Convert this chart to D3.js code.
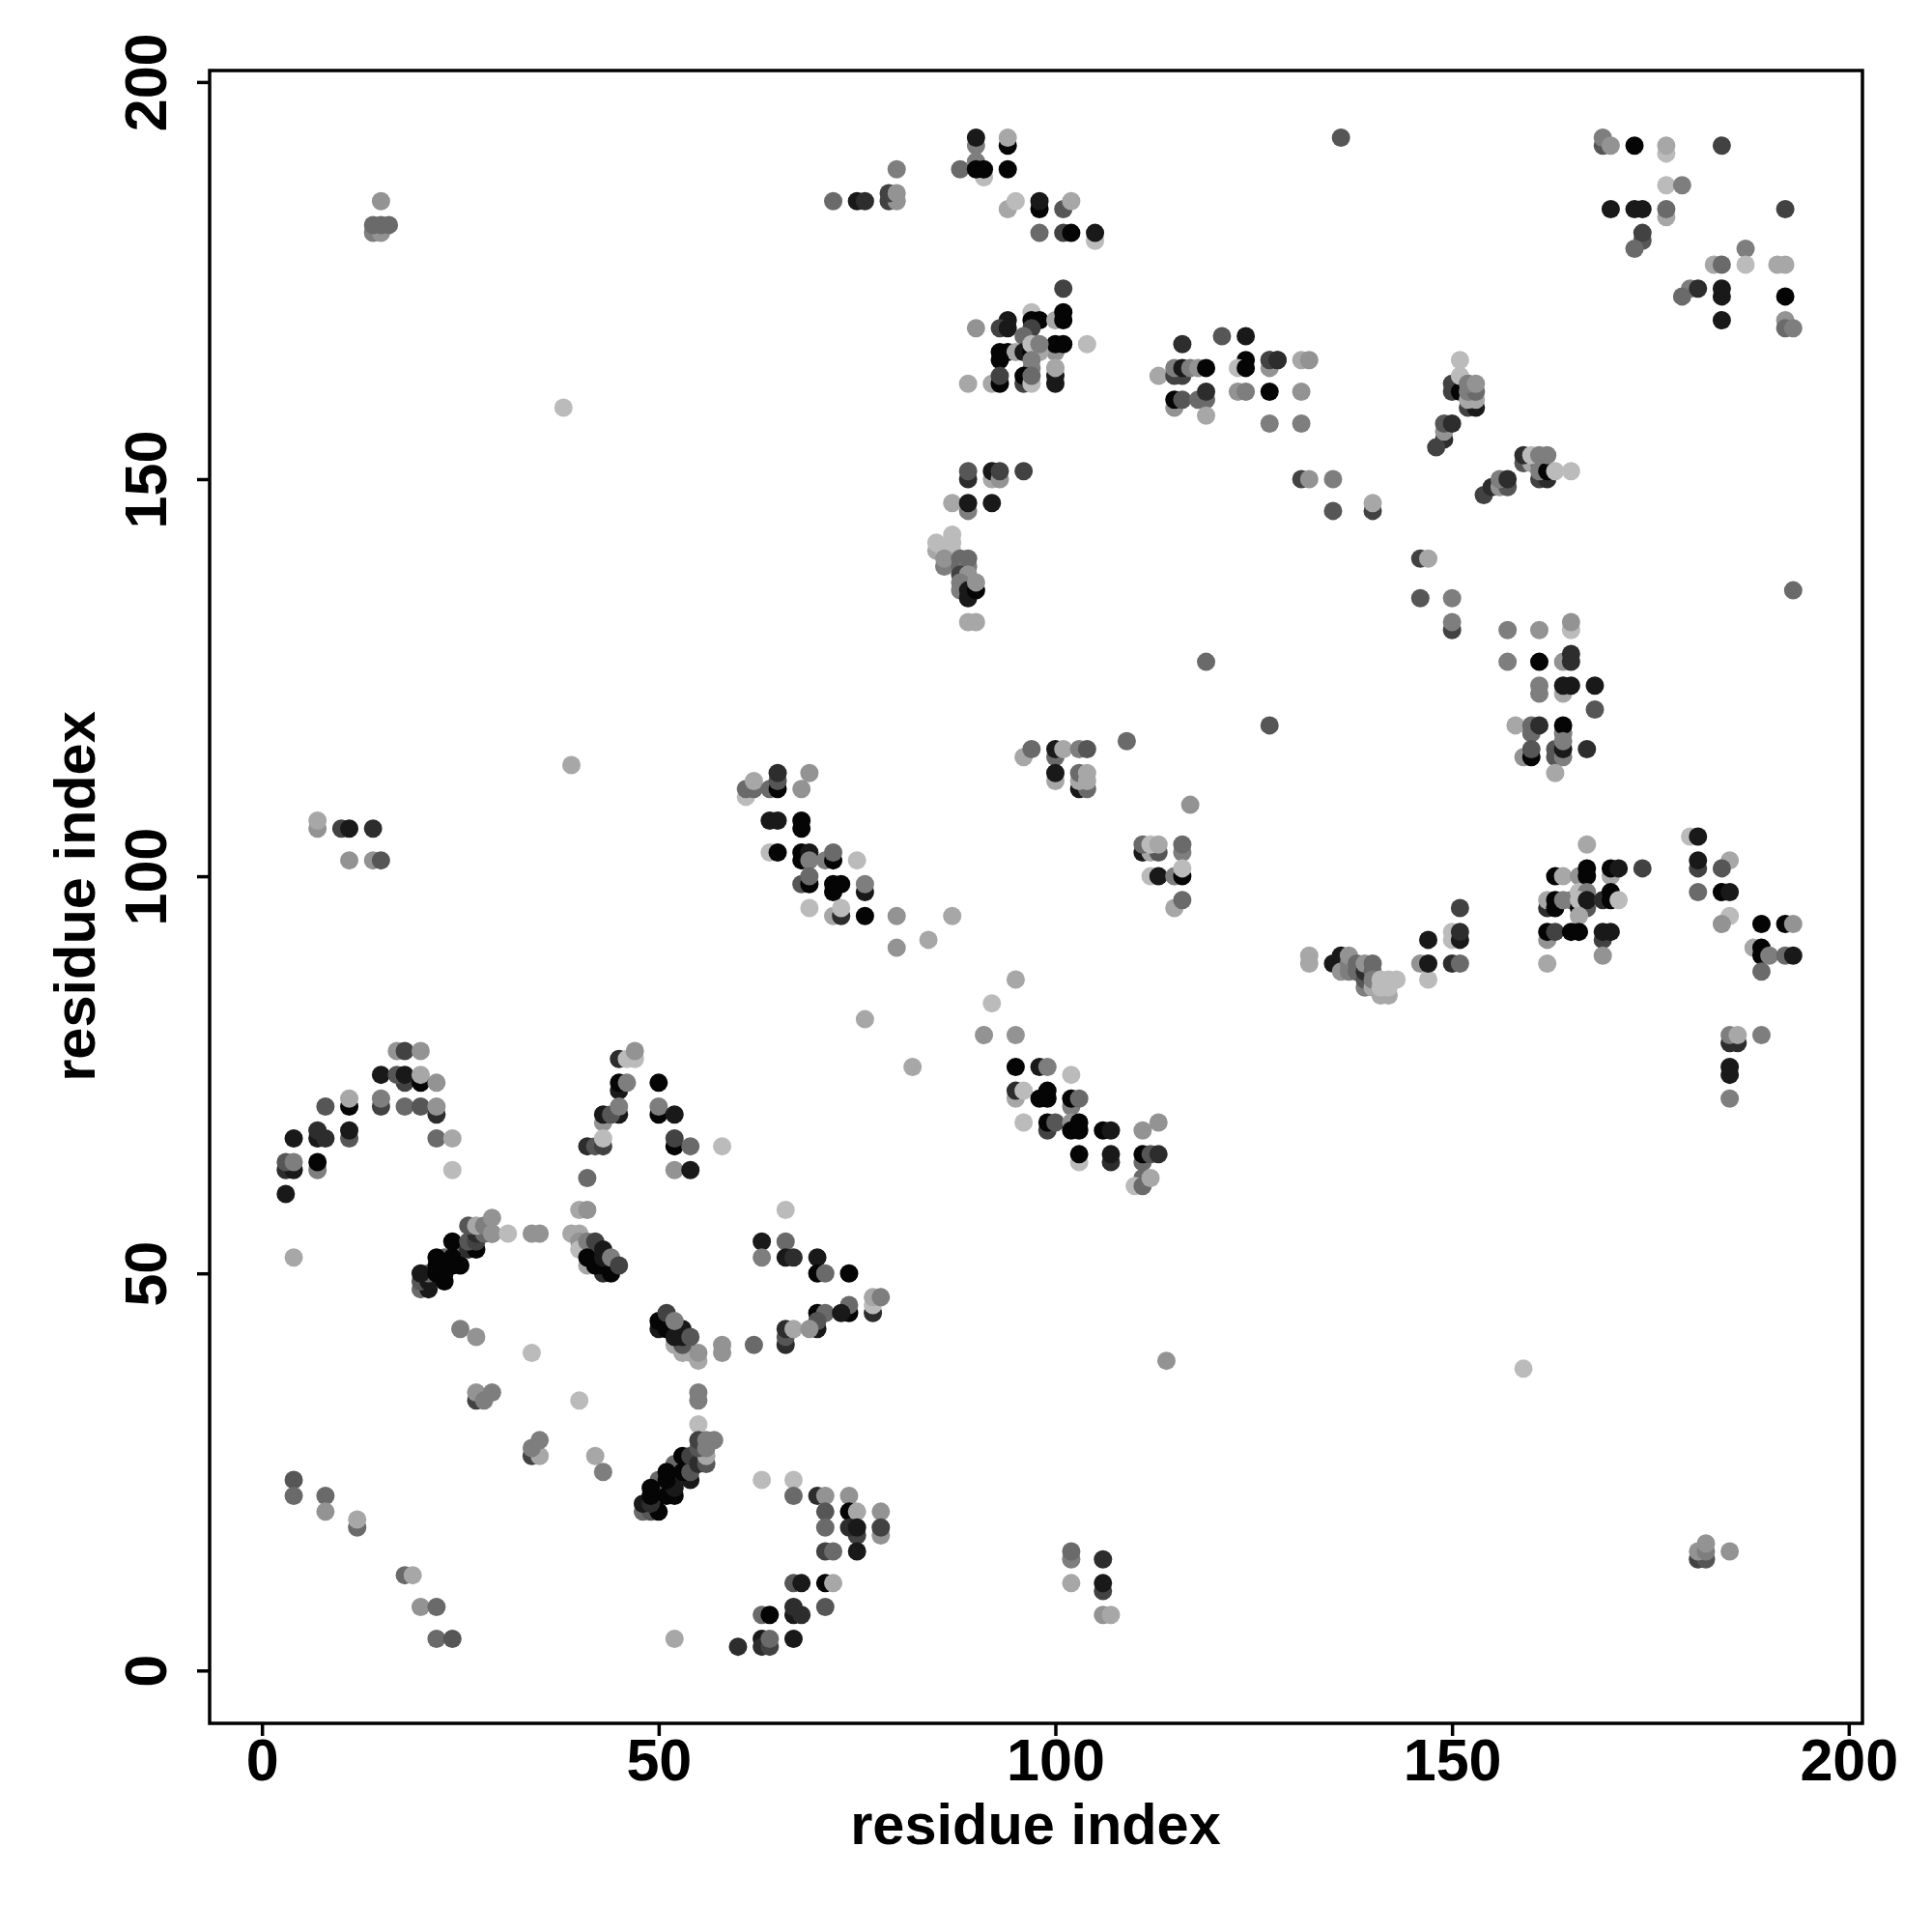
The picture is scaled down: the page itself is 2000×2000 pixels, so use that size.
<!DOCTYPE html>
<html><head><meta charset="utf-8">
<script src="https://cdn.jsdelivr.net/npm/d3@7"></script>
<style>html,body{margin:0;padding:0;background:#fff}svg{display:block}text{font-family:"Liberation Sans",Arial,sans-serif;font-weight:700;fill:#000}</style>
</head><body><div id="chart"></div>
<script>
// [residue x, residue y, darkness level 0 (light) .. 9 (black)]
const archLeft = [[17,78,2],[18,78,6],[20,78,2],[15,75,8],[18,74,6],[20,74,9],[17,75,5],[18,75,8],[20,75,1],[22,74,2],[15,71,6],[15,72,3],[8,71,5],[11,71,9],[11,72,1],[18,71,4],[20,71,5],[22,70,7],[22,71,2],[7,67,8],[7,68,7],[8,67,7],[11,67,5],[11,68,8],[4,67,8],[22,67,4],[24,67,1],[3,63,7],[4,63,8],[3,64,5],[4,64,3],[7,63,3],[7,64,9],[24,63,0],[3,60,8],[4,52,1]];
const archRight = [[45,77,7],[46,77,0],[47,77,0],[47,78,2],[45,73,8],[45,74,9],[46,74,3],[50,74,9],[45,70,8],[43,69,2],[43,70,8],[44,70,5],[50,70,9],[50,71,3],[45,71,3],[52,70,8],[41,66,7],[42,66,5],[43,66,6],[43,67,0],[52,66,9],[52,67,6],[54,66,4],[58,66,0],[52,63,2],[54,63,8],[41,62,4],[40,58,1],[41,58,2]];
const blobA = [[20,48,4],[21,48,8],[20,49,5],[21,49,8],[21,50,4],[20,50,8],[23,52,4],[22,50,9],[23,49,9],[23,50,9],[22,51,9],[22,52,9],[25,53,4],[24,52,9],[25,51,9],[24,51,9],[24,54,9],[26,53,7],[27,53,9],[26,54,5],[27,54,6],[27,55,7],[29,55,7],[26,56,5],[28,55,4],[27,56,1],[28,56,3],[29,55,2],[29,57,2],[31,55,0],[34,55,2],[35,55,2]];
const blobB = [[39,55,1],[40,55,1],[40,54,2],[41,53,3],[40,53,0],[41,54,3],[42,54,6],[41,51,1],[41,52,9],[43,53,8],[43,50,7],[44,50,9],[42,51,9],[43,51,9],[43,52,8],[44,52,3],[45,51,6]];
const blobC = [[52,41,1],[53,40,1],[54,40,1],[55,39,1],[55,40,2],[53,41,5],[50,43,8],[50,44,9],[51,43,9],[51,45,6],[52,42,8],[53,42,8],[53,43,8],[52,44,3],[54,42,5],[58,41,2],[58,40,2],[25,43,3],[27,42,2],[34,40,0],[27,34,6],[27,35,2],[28,34,3],[29,35,3],[40,34,0],[55,34,3],[55,35,3],[55,31,0]];
const blobD = [[48,20,4],[49,20,5],[50,22,4],[50,24,4],[52,24,5],[52,26,4],[50,20,9],[48,21,8],[49,21,7],[49,22,9],[51,22,9],[52,22,9],[49,23,9],[52,23,8],[54,24,8],[51,24,9],[51,25,9],[53,25,9],[54,25,5],[53,27,9],[54,27,6],[55,26,7],[56,26,5],[56,27,1],[55,28,5],[55,29,6],[56,28,3],[56,29,3],[57,29,3],[34,27,6],[35,27,1],[34,28,3],[35,29,3],[42,27,1],[43,25,3]];
const farLeft = [[4,24,5],[4,22,4],[8,22,4],[8,20,2],[12,18,4],[12,19,1],[18,12,4],[19,12,1],[20,8,2],[22,8,4],[22,4,4],[24,4,5],[52,4,1]];
const lowerMid = [[66,58,0],[63,54,8],[66,54,4],[63,52,3],[66,52,8],[67,52,7],[70,52,8],[70,50,9],[71,50,4],[74,50,9],[77,45,7],[77,46,0],[77,47,1],[78,47,3],[74,45,9],[74,46,4],[70,45,9],[71,45,4],[73,45,8],[70,43,8],[70,44,5],[66,41,7],[66,42,5],[66,43,7],[67,43,1],[69,43,2],[62,41,4],[67,24,0],[63,24,0],[67,22,4],[70,22,7],[71,22,2],[74,22,2],[74,20,9],[75,20,1],[71,20,5],[78,20,2],[78,17,2],[78,18,6],[75,17,6],[74,18,7],[75,18,8],[71,18,4],[71,15,6],[72,15,4],[75,15,8],[67,11,5],[68,11,8],[71,11,9],[72,11,1],[71,8,5],[67,7,8],[67,8,7],[68,7,7],[63,7,4],[64,7,9],[63,4,8],[67,4,8],[60,3,7],[63,3,7],[64,3,6],[64,4,4]];
const lowerRight = [[102,14,3],[102,15,4],[102,11,1],[106,14,7],[106,10,6],[106,11,8],[106,7,2],[107,7,1],[114,39,2],[159,38,0],[181,14,6],[182,14,5],[181,15,2],[182,15,3],[182,16,2],[185,15,2]];
const midBand = [[61,110,0],[61,111,4],[62,111,4],[62,112,1],[64,111,4],[65,111,9],[65,112,5],[65,113,7],[69,113,2],[68,111,2],[64,107,8],[65,107,8],[68,106,9],[68,107,9],[64,103,0],[65,103,9],[68,102,9],[68,103,9],[69,103,8],[69,102,3],[71,102,3],[72,102,9],[72,103,4],[75,102,0],[68,99,5],[69,99,9],[69,100,4],[72,98,9],[72,99,9],[73,99,9],[76,98,8],[76,99,3],[69,96,0],[72,95,1],[73,95,7],[73,96,0],[76,95,9],[80,95,2],[87,95,1],[84,92,1],[80,91,2],[76,82,1],[82,76,1],[95,87,1],[92,84,0],[91,80,2],[95,80,2]];
const midBandLow = [[95,76,9],[98,76,8],[99,76,3],[102,75,0],[95,72,1],[95,73,7],[96,73,0],[98,72,9],[99,72,9],[99,73,9],[102,71,3],[102,72,9],[103,72,4],[96,69,0],[99,68,6],[99,69,9],[100,69,5],[102,69,2],[102,68,9],[103,68,9],[103,69,9],[106,68,9],[107,68,8],[111,68,2],[113,69,2],[103,64,0],[103,65,9],[107,64,7],[107,65,8],[111,64,4],[111,65,9],[112,65,5],[113,65,7],[111,62,4],[110,61,0],[111,61,4],[112,62,1]];
const midUpper = [[96,115,1],[97,116,4],[100,115,4],[100,116,8],[101,116,1],[103,116,3],[104,116,5],[100,112,1],[100,113,8],[103,111,8],[104,111,4],[103,112,1],[103,113,4],[104,113,1],[104,112,1],[109,117,4],[117,109,2],[111,103,8],[112,103,1],[113,103,5],[111,104,4],[112,104,0],[113,104,1],[116,103,3],[116,104,4],[112,100,0],[113,100,8],[115,100,3],[116,100,9],[116,101,0],[115,96,1],[116,97,4],[119,127,4],[127,119,5]];
const topMid = [[72,185,4],[75,185,8],[76,185,7],[79,185,6],[80,185,2],[79,186,6],[80,186,2],[80,189,3],[90,190,3],[88,189,4],[91,188,0],[90,189,9],[91,189,9],[94,189,9],[90,192,3],[90,193,8],[94,192,9],[94,193,1],[94,184,1],[95,185,0],[98,184,9],[98,185,8],[101,184,5],[102,185,1],[98,181,4],[101,181,6],[102,181,9],[105,180,0],[105,181,8]];
const topCluster = [[101,174,6],[97,171,0],[94,170,8],[97,170,9],[98,170,9],[100,170,1],[101,170,9],[101,171,9],[90,169,2],[93,169,6],[94,169,8],[97,169,6],[96,168,4],[93,166,9],[94,166,9],[95,166,1],[96,166,8],[97,166,9],[100,166,2],[100,167,9],[101,167,9],[104,167,0],[98,166,1],[97,167,0],[98,167,3],[93,165,9],[97,164,3],[97,165,3],[100,164,1],[89,162,1],[92,162,1],[93,162,9],[93,163,6],[96,162,6],[96,163,9],[97,162,0],[97,163,4],[100,162,8],[100,163,8],[100,164,1]];
const wing = [[121,168,5],[124,168,8],[116,167,7],[131,165,1],[132,165,2],[124,165,9],[127,165,6],[128,165,7],[113,163,1],[115,163,6],[116,163,6],[115,164,3],[116,164,8],[117,164,3],[118,164,2],[119,164,9],[123,164,0],[124,164,9],[127,164,2],[127,165,6],[128,165,7],[115,159,2],[115,160,9],[116,160,5],[118,160,4],[119,160,4],[119,161,7],[119,158,1],[123,161,2],[124,161,3],[127,161,9],[131,161,2],[127,157,3],[131,157,3],[131,150,6],[132,150,2],[135,150,3],[135,146,5],[140,146,6],[140,147,1]];
const helixA = [[151,165,0],[150,161,6],[150,162,6],[151,161,9],[151,163,0],[152,159,6],[153,159,8],[152,160,1],[153,160,1],[152,161,3],[153,161,4],[152,162,3],[153,162,2],[149,155,7],[148,154,6],[149,156,2],[149,157,5],[150,157,7]];
const helixB = [[154,148,6],[155,149,7],[156,149,2],[157,149,5],[156,150,3],[157,150,7],[159,152,5],[160,152,1],[161,152,4],[159,153,7],[160,153,0],[161,150,6],[162,150,7],[161,151,3],[162,151,9],[161,153,3],[162,153,3],[163,151,0],[165,151,0]];
const strandA = [[89,150,7],[89,151,5],[92,150,1],[92,151,8],[93,150,2],[93,151,6],[96,151,6],[87,147,1],[89,146,3],[89,147,8],[92,147,8],[87,143,0],[85,141,1],[85,142,0],[87,142,0],[86,141,0],[87,141,0],[86,139,3],[86,140,2],[88,139,4],[88,140,4],[89,139,3],[89,140,4],[88,138,6],[89,138,2],[88,137,3],[88,136,3],[89,135,8],[89,136,8],[90,136,9],[90,137,2],[89,132,1],[90,132,1]];
const rightTop = [[169,192,5],[169,193,3],[170,192,2],[173,192,9],[177,191,0],[177,192,1],[184,192,6],[177,187,0],[179,187,3],[170,184,8],[173,184,8],[174,184,8],[177,183,1],[177,184,4],[192,184,6],[174,180,5],[174,181,6],[173,179,4],[187,179,3],[183,177,1],[184,177,4],[187,177,0],[191,177,1],[192,177,1],[180,174,3],[179,173,4],[181,174,7],[184,173,8],[184,174,8],[192,173,9],[184,170,8],[192,170,2],[192,169,4],[193,169,3]];
const rightMid = [[146,140,6],[147,140,1],[146,135,5],[150,135,3],[150,131,6],[150,132,3],[157,131,3],[161,131,2],[165,131,0],[165,132,2],[157,127,3],[164,127,2],[161,127,9],[165,127,7],[165,128,7],[161,123,3],[161,124,3],[164,123,1],[164,124,8],[165,124,8],[168,124,8],[168,121,5],[158,119,1],[160,118,4],[160,119,4],[161,119,7],[164,118,3],[164,119,9],[159,115,2],[160,115,9],[160,116,5],[163,115,5],[163,116,5],[164,115,3],[164,116,8],[164,117,3],[167,116,7],[163,113,1],[193,136,4],[136,193,5]];
const loopA = [[132,89,1],[132,90,1],[135,89,8],[136,89,8],[136,90,8],[136,88,2],[137,88,3],[137,89,3],[137,90,2],[138,88,4],[138,89,4],[139,86,3],[139,87,5],[139,88,7],[139,89,2],[140,88,4],[140,89,4],[140,86,1],[140,87,3],[141,85,1],[142,85,1],[141,86,0],[142,86,0],[141,87,0],[142,87,0],[143,87,0],[147,87,0],[146,89,2],[147,89,8],[147,92,8],[150,89,7],[151,89,4],[150,92,0],[150,93,0],[151,92,8],[151,93,7],[151,96,6]];
const clusterRight = [[167,104,1],[163,100,9],[164,100,1],[166,100,2],[167,100,9],[167,101,9],[170,100,1],[170,101,9],[171,101,8],[174,101,6],[162,96,7],[162,97,1],[163,96,9],[163,97,9],[164,97,3],[165,97,3],[166,98,0],[166,96,9],[167,96,5],[167,98,3],[166,97,0],[167,97,8],[169,97,7],[170,97,9],[170,98,9],[171,97,0],[166,95,1],[162,92,2],[162,93,9],[163,93,6],[165,93,9],[166,93,9],[169,92,6],[169,93,8],[170,93,8],[169,90,2],[162,89,1]];
const rightLow = [[180,105,0],[181,105,8],[181,101,6],[181,102,8],[185,102,1],[184,101,5],[181,98,4],[184,98,9],[185,98,8],[185,95,0],[184,94,2],[189,94,9],[192,94,9],[193,94,2],[188,91,1],[189,91,9],[189,90,9],[189,88,4],[190,90,3],[192,90,4],[193,90,8],[185,79,7],[186,79,7],[185,80,3],[186,80,1],[189,80,3],[185,75,8],[185,76,8],[185,72,3]];
const strays = [[15,185,2],[14,181,3],[15,181,2],[14,182,4],[15,182,4],[16,182,4],[38,159,0],[39,114,1],[7,106,2],[7,107,1],[10,106,6],[11,106,8],[14,106,7],[11,102,2],[14,102,2],[15,102,5]];
const xTicks = [0,50,100,150,200];
const yTicks = [0,50,100,150,200];
const axisLabel = "residue index";

const groups = [archLeft,archRight,blobA,blobB,blobC,blobD,farLeft,lowerMid,lowerRight,midBand,midBandLow,midUpper,topMid,topCluster,wing,helixA,helixB,strandA,rightTop,rightMid,loopA,clusterRight,rightLow,strays];
const points = groups.flat();

const W=2000,H=2000;
const box={l:217,r:1928,t:73,b:1784};
const x=d3.scaleLinear().domain([0,200]).range([271.2,1913.8]);
const y=d3.scaleLinear().domain([0,200]).range([1729.3,84.9]);
const shade=d3.scaleLinear().domain([0,9]).range([187,5]);
const svg=d3.select("#chart").append("svg").attr("width",W).attr("height",H);

svg.append("g").selectAll("circle").data(points).join("circle")
  .attr("cx",d=>x(d[0])).attr("cy",d=>y(d[1])).attr("r",9.5)
  .attr("fill",d=>{const g=Math.round(shade(d[2]));return `rgb(${g},${g},${g})`;});

svg.append("rect").attr("x",box.l).attr("y",box.t).attr("width",box.r-box.l).attr("height",box.b-box.t)
  .attr("fill","none").attr("stroke","#000").attr("stroke-width",3.5);

const gx=svg.append("g").attr("transform",`translate(0,${box.b})`)
  .call(d3.axisBottom(x).tickValues(xTicks).tickSize(13).tickPadding(0));
gx.select(".domain").remove();
gx.selectAll("line").attr("stroke","#000").attr("stroke-width",3.5);
gx.selectAll("text").attr("dy",null).attr("y",59).attr("font-size",61).style("font-weight",700).attr("text-anchor","middle");

const gy=svg.append("g").attr("transform",`translate(${box.l},0)`)
  .call(d3.axisLeft(y).tickValues(yTicks).tickSize(13).tickPadding(0));
gy.select(".domain").remove();
gy.selectAll("line").attr("stroke","#000").attr("stroke-width",3.5);
gy.selectAll("text").attr("dy",null).attr("x",null).attr("y",null).attr("font-size",61).style("font-weight",700)
  .attr("text-anchor","middle").attr("transform",`translate(-45,0) rotate(-90)`);

svg.append("text").attr("x",1072).attr("y",1909).attr("text-anchor","middle").attr("font-size",59.5).text(axisLabel);
svg.append("text").attr("transform","translate(98,928) rotate(-90)").attr("text-anchor","middle").attr("font-size",59.5).text(axisLabel);
</script></body></html>
